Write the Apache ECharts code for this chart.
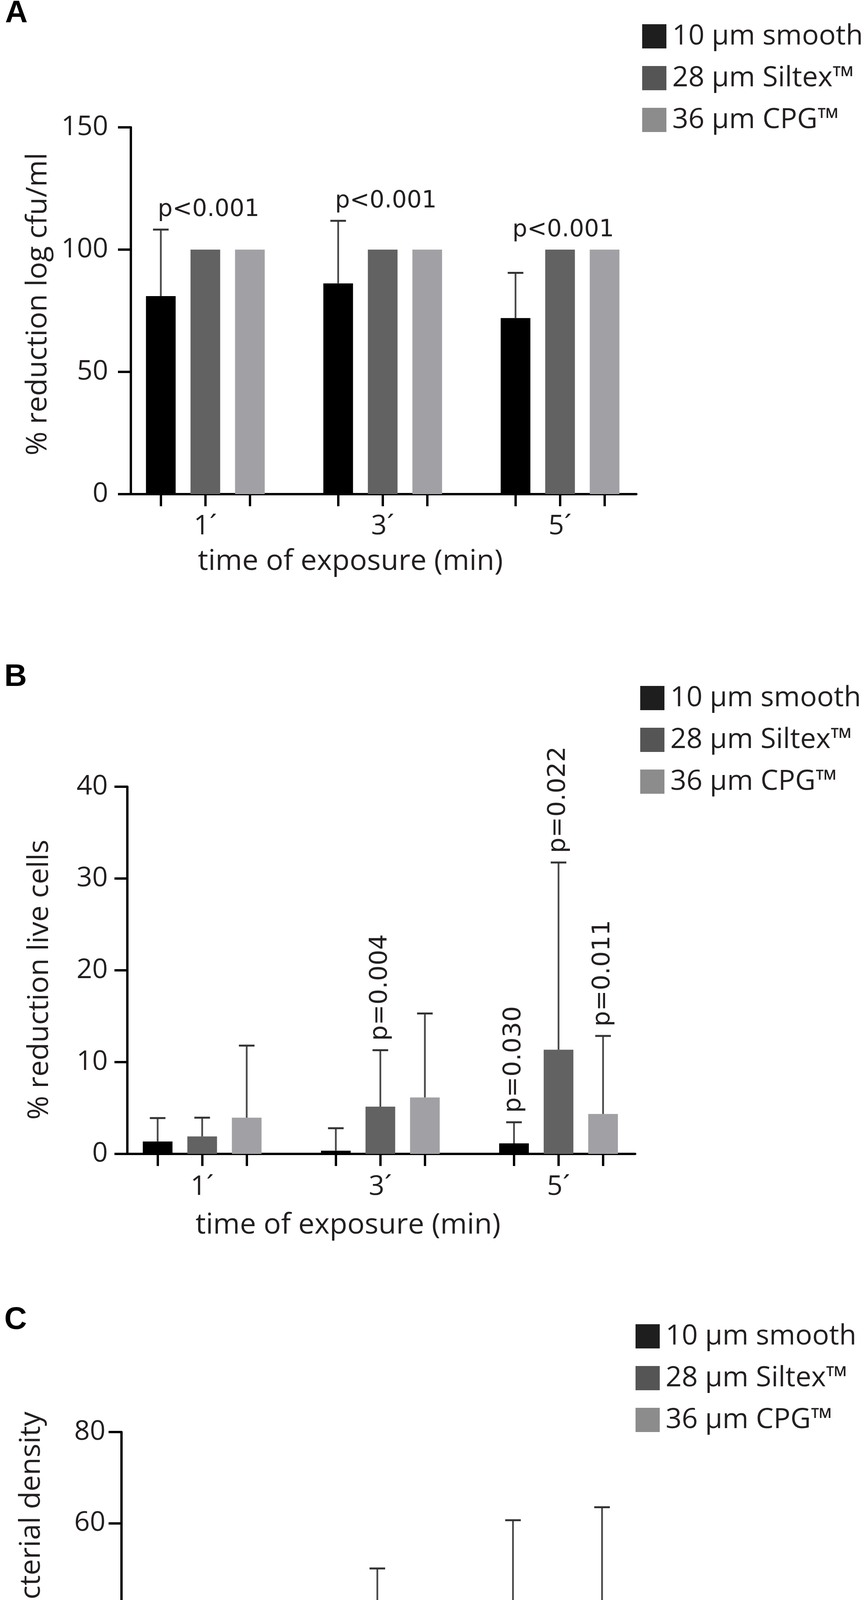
<!DOCTYPE html>
<html>
<head>
<meta charset="utf-8">
<title>Reduction by implant surface</title>
<script src="https://cdn.jsdelivr.net/npm/echarts@6/dist/echarts.min.js"></script>
<style>
  html, body { margin: 0; padding: 0; background: #fff; }
  #chart { width: 2217px; height: 4818px; }
</style>
</head>
<body>
<div id="chart"></div>
<script>
const categories = ['1´', '3´', '5´'];
const seriesNames = ['10 µm smooth', '28 µm Siltex™', '36 µm CPG™'];

// A: % reduction log cfu/ml (mean, upper SD)
const smoothA = [81, 86.2, 72];
const smoothA_sd = [27.2, 25.6, 18.5];
const siltexA = [100, 100, 100];
const siltexA_sd = [null, null, null];
const cpgA = [100, 100, 100];
const cpgA_sd = [null, null, null];
const pLabelsA = ['p<0.001', 'p<0.001', 'p<0.001'];
const yMaxA = 150, yStepA = 50;

// B: % reduction live cells
const smoothB = [1.35, 0.35, 1.15];
const smoothB_sd = [2.55, 2.45, 2.3];
const siltexB = [1.9, 5.15, 11.35];
const siltexB_sd = [2.05, 6.15, 20.4];
const cpgB = [3.95, 6.15, 4.35];
const cpgB_sd = [7.85, 9.15, 8.5];
// [group, series, text]
const pLabelsB = [[1, 1, 'p=0.004'], [2, 0, 'p=0.030'], [2, 1, 'p=0.022'], [2, 2, 'p=0.011']];
const yMaxB = 40, yStepB = 10;

// C: % reduction bacterial density
const smoothC = [8.0, 0.95, 25.6];
const smoothC_sd = [19.5, 3.05, 35.05];
const siltexC = [0, 19.05, 9.0];
const siltexC_sd = [null, 31.0, 22.9];
const cpgC = [1.45, 12.25, 27.1];
const cpgC_sd = [5.0, 26.35, 36.4];
const yMaxC = 80, yStepC = 20;

const FONT = "'Open Sans', 'Noto Sans', sans-serif";
const PFONT = "'DejaVu Sans', Verdana, sans-serif";
const TEXT = '#231f20';
const barColors = ['#000000', '#626262', '#a1a1a5'];
const legendColors = ['#1e1e1e', '#555555', '#8c8c8c'];
const ERR = '#4a4a4a';
const BAR_W = 76;
const BAR_GAP = 0.5;            // fraction of bar width
const BAR_STEP = BAR_W * (1 + BAR_GAP);
const CAP = 40;
const X_MIN = -0.42;

const panels = [
  {
    letter: 'A', letterPos: [42, 35],
    yName: '% reduction log cfu/ml',
    values: [smoothA, siltexA, cpgA], sds: [smoothA_sd, siltexA_sd, cpgA_sd],
    yMax: yMaxA, yStep: yStepA,
    grid: { left: 335, top: 326, width: 1294, height: 939 }, xMax: 2.43,
    legend: [1639, 52],
    yLabelMargin: 58, yNameGap: 200, yNamePad: [0, 0, 0, 34],
    xLabelMargin: 48, xNameGap: 136
  },
  {
    letter: 'B', letterPos: [40, 1734],
    yName: '% reduction live cells',
    values: [smoothB, siltexB, cpgB], sds: [smoothB_sd, siltexB_sd, cpgB_sd],
    yMax: yMaxB, yStep: yStepB,
    grid: { left: 326, top: 2014, width: 1300, height: 940 }, xMax: 2.43,
    legend: [1634, 1746],
    yLabelMargin: 50, yNameGap: 187, yNamePad: [0, 48, 0, 0],
    xLabelMargin: 50, xNameGap: 146
  },
  {
    letter: 'C', letterPos: [40, 3380],
    yName: '% reduction bacterial density',
    values: [smoothC, siltexC, cpgC], sds: [smoothC_sd, siltexC_sd, cpgC_sd],
    yMax: yMaxC, yStep: yStepC,
    grid: { left: 311, top: 3666, width: 1310, height: 933 }, xMax: 2.42,
    legend: [1622, 3380],
    yLabelMargin: 41, yNameGap: 193, yNamePad: [0, 0, 0, 38],
    xLabelMargin: 42, xNameGap: 137
  }
];

function errorRender(params, api) {
  const g = api.value(0), v = api.value(1), sd = api.value(2), s = api.value(3);
  const base = api.coord([g, v]);
  const top = api.coord([g, v + sd]);
  const x = base[0] + (s - 1) * BAR_STEP;
  return {
    type: 'group',
    children: [
      { type: 'line', shape: { x1: x, y1: base[1], x2: x, y2: top[1] },
        style: { stroke: ERR, lineWidth: 4.5 } },
      { type: 'line', shape: { x1: x - CAP / 2, y1: top[1], x2: x + CAP / 2, y2: top[1] },
        style: { stroke: '#333', lineWidth: 5 } }
    ]
  };
}

const option = {
  backgroundColor: '#fff',
  animation: false,
  grid: [],
  xAxis: [],
  yAxis: [],
  legend: [],
  series: [],
  graphic: []
};

panels.forEach((p, i) => {
  const groupPx = p.grid.width / (p.xMax - X_MIN);
  const tickVals = [];
  categories.forEach((c, g) => {
    for (let s = -1; s <= 1; s++) tickVals.push(g + s * BAR_STEP / groupPx);
  });

  option.grid.push(Object.assign({ containLabel: false }, p.grid));

  option.xAxis.push({
    type: 'value', gridIndex: i, min: X_MIN, max: p.xMax,
    axisLine: { show: true, onZero: false, lineStyle: { color: '#000', width: 6 } },
    axisTick: { show: true, customValues: tickVals, length: 31, lineStyle: { color: '#000', width: 6 } },
    axisLabel: {
      customValues: [0, 1, 2], formatter: v => categories[Math.round(v)],
      margin: p.xLabelMargin, fontSize: 70, fontFamily: FONT, color: TEXT
    },
    splitLine: { show: false },
    name: 'time of exposure (min)', nameLocation: 'middle', nameGap: p.xNameGap,
    nameTextStyle: { fontSize: 74, fontFamily: FONT, color: TEXT, padding: [0, 170, 0, 0] }
  });

  option.yAxis.push({
    type: 'value', gridIndex: i, min: 0, max: p.yMax, interval: p.yStep,
    axisLine: { show: true, onZero: false, lineStyle: { color: '#000', width: 6 } },
    axisTick: { show: true, length: 33, lineStyle: { color: '#000', width: 6 } },
    axisLabel: { margin: p.yLabelMargin, fontSize: 70, fontFamily: FONT, color: TEXT },
    splitLine: { show: false },
    name: p.yName, nameLocation: 'middle', nameGap: p.yNameGap, nameRotate: 90,
    nameTextStyle: { fontSize: 74, fontFamily: FONT, color: TEXT, padding: p.yNamePad }
  });

  option.legend.push({
    orient: 'vertical', left: p.legend[0], top: p.legend[1],
    itemWidth: 62, itemHeight: 62, itemGap: 35, icon: 'rect', selectedMode: false,
    data: seriesNames.map((n, k) => ({ name: n, itemStyle: { color: legendColors[k], borderWidth: 0 } })),
    textStyle: { fontSize: 72, fontFamily: FONT, color: TEXT, lineHeight: 62, padding: [0, 0, 0, 10] }
  });

  const errData = [];
  seriesNames.forEach((name, s) => {
    option.series.push({
      type: 'bar', name: name, xAxisIndex: i, yAxisIndex: i,
      barWidth: BAR_W, barGap: (BAR_GAP * 100) + '%',
      itemStyle: { color: barColors[s] },
      data: p.values[s].map((v, g) => [g, v])
    });
    p.sds[s].forEach((sd, g) => {
      if (sd != null) errData.push([g, p.values[s][g], sd, s]);
    });
  });

  option.series.push({
    type: 'custom', name: 'err' + p.letter, xAxisIndex: i, yAxisIndex: i,
    renderItem: errorRender, data: errData, z: 3
  });

  // panel letter
  option.graphic.push({
    type: 'text', x: p.letterPos[0], y: p.letterPos[1],
    style: { text: p.letter, font: "bold 80px 'Liberation Sans', Arial, sans-serif", fill: '#000',
             align: 'center', verticalAlign: 'middle' }
  });
});

// p-values in A: one label per group, above the tallest mark
const topsA = categories.map((c, g) =>
  Math.max(...panels[0].values.map((vals, s) => vals[g] + (panels[0].sds[s][g] || 0))));
option.series.push({
  type: 'custom', name: 'pA', xAxisIndex: 0, yAxisIndex: 0, z: 4,
  data: topsA.map((t, g) => [g, t]),
  renderItem: (params, api) => {
    const pt = api.coord([api.value(0), api.value(1)]);
    return {
      type: 'text', x: pt[0] - BAR_STEP - 8, y: pt[1] - 20,
      style: { text: pLabelsA[params.dataIndex], fontSize: 60, fontFamily: PFONT, fill: TEXT,
               align: 'left', verticalAlign: 'bottom' }
    };
  }
});

// p-values in B: vertical, above individual error bars
option.series.push({
  type: 'custom', name: 'pB', xAxisIndex: 1, yAxisIndex: 1, z: 4,
  data: pLabelsB.map(([g, s]) => [g, panels[1].values[s][g] + panels[1].sds[s][g], s]),
  renderItem: (params, api) => {
    const pt = api.coord([api.value(0), api.value(1)]);
    const s = api.value(2);
    return {
      type: 'text', x: pt[0] + (s - 1) * BAR_STEP, y: pt[1] - 24, rotation: Math.PI / 2,
      style: { text: pLabelsB[params.dataIndex][2], fontSize: 63, fontFamily: PFONT, fill: TEXT,
               align: 'left', verticalAlign: 'middle' }
    };
  }
});

const chart = echarts.init(document.getElementById('chart'), null, { renderer: 'canvas' });
chart.setOption(option);
</script>
</body>
</html>
